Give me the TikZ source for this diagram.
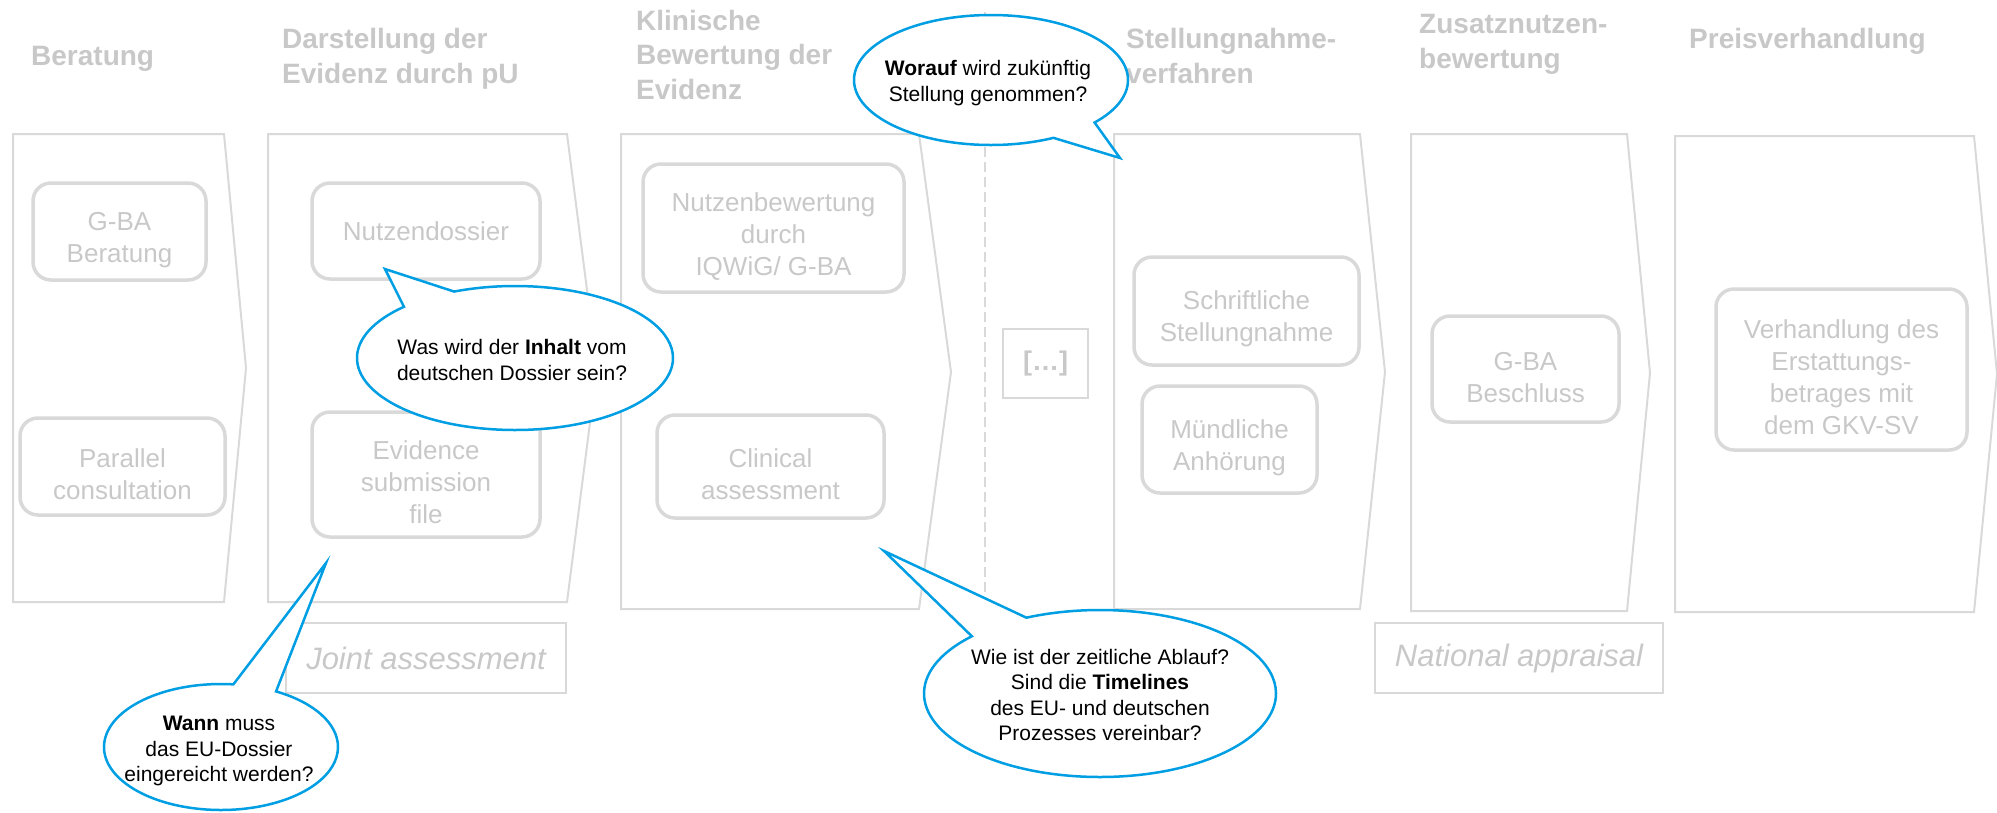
\documentclass[tikz,border=0pt]{standalone}
\usepackage{fontspec}
\setmainfont{Liberation Sans}
\usetikzlibrary{shapes.callouts,calc}
\definecolor{stagegray}{RGB}{200,200,200}
\definecolor{boxgray}{RGB}{217,217,217}
\definecolor{qblue}{RGB}{0,158,226}
\newcommand{\lift}{\rule{0pt}{35pt}}

\begin{document}
\begin{tikzpicture}[x=1pt,y=-1pt,
    title/.style={anchor=base west,align=left,inner sep=0pt,text=stagegray,font=\fontsize{28}{34.5}\selectfont\bfseries},
    stage/.style={draw=boxgray,line width=2pt},
    task/.style={draw=boxgray,line width=3.5pt,rounded corners=18pt,text=stagegray,align=center,inner sep=0pt,font=\fontsize{26}{32}\selectfont},
    track/.style={draw=boxgray,line width=2pt,text=stagegray,inner sep=0pt,font=\fontsize{31}{36}\selectfont\itshape},
    bubble/.style={ellipse callout,draw=qblue,fill=white,line width=2.5pt,callout pointer arc=22,inner sep=0pt},
    question/.style={align=center,inner sep=0pt,font=\fontsize{21}{25.5}\selectfont}]

    \useasboundingbox (0,0) rectangle (1997,812);

    \draw[stage] (13,134) -- (224,134) -- (246,368) -- (224,602) -- (13,602) -- cycle;
    \draw[stage] (268,134) -- (567,134) -- (597,368) -- (567,602) -- (268,602) -- cycle;
    \draw[stage] (621,134) -- (919,134) -- (951,372) -- (919,609) -- (621,609) -- cycle;
    \draw[stage] (1114,134) -- (1360,134) -- (1385,372) -- (1360,609) -- (1114,609) -- cycle;
    \draw[stage] (1411,134) -- (1627,134) -- (1650,373) -- (1627,611) -- (1411,611) -- cycle;
    \draw[stage] (1675,136) -- (1974,136) -- (1997,374) -- (1974,612) -- (1675,612) -- cycle;

    \coordinate (septop) at (985,12);
    \coordinate (sepbot) at (985,605);
    \draw[boxgray,line width=1.5pt,dash pattern=on 10pt off 5pt] (septop) -- (sepbot);

    \node[title] (beratung) at (31,65) {Beratung};
    \node[title] (darstellung) at (282,83) {Darstellung der\\Evidenz durch pU};
    \node[title] (klinisch) at (636,99) {Klinische\\Bewertung der\\Evidenz};
    \node[title] (stellung) at (1126,83) {Stellungnahme-\\verfahren};
    \node[title] (zusatz) at (1419,68) {Zusatznutzen-\\bewertung};
    \node[title] (preis) at (1689,48) {Preisverhandlung};

    \node[task,minimum width=173pt,minimum height=97pt] (gbaberatung) at (119.5,231.5) {\lift G-BA\\Beratung};
    \node[task,minimum width=205pt,minimum height=97pt] (parallel) at (122.5,466.5) {\lift Parallel\\consultation};
    \node[task,minimum width=228pt,minimum height=96pt] (dossier) at (426,231) {Nutzendossier};
    \node[task,minimum width=228pt,minimum height=125pt] (evidence) at (426,474.5) {\lift Evidence\\submission\\file};
    \node[task,minimum width=261pt,minimum height=128pt] (nutzenbew) at (773.5,228) {\lift Nutzenbewertung\\durch\\IQWiG/ G-BA};
    \node[task,minimum width=227pt,minimum height=103pt] (clinical) at (770.5,466.5) {\lift Clinical\\assessment};
    \node[task,minimum width=225pt,minimum height=108pt] (schriftlich) at (1246.5,311) {\lift Schriftliche\\Stellungnahme};
    \node[task,minimum width=175pt,minimum height=107pt] (muendlich) at (1229.5,439.5) {\lift Mündliche\\Anhörung};
    \node[task,minimum width=187pt,minimum height=106pt] (beschluss) at (1525.5,369) {\lift G-BA\\Beschluss};
    \node[task,minimum width=251pt,minimum height=161pt] (verhandlung) at (1841.5,369.5) {\lift Verhandlung des\\Erstattungs-\\betrages mit\\dem GKV-SV};

    \node[draw=boxgray,line width=2pt,text=stagegray,minimum width=85pt,minimum height=69pt,font=\fontsize{27}{32}\selectfont\bfseries] (gap) at (1045.5,363.5) {[…]};
    \node[track,minimum width=280pt,minimum height=70pt] (joint) at (426,658) {Joint assessment};
    \node[track,minimum width=288pt,minimum height=70pt] (national) at (1519,658) {National appraisal};

    \coordinate (tipworauf) at (1120,158);
    \coordinate (tipinhalt) at (385,269);
    \coordinate (tipwann) at (326,563);
    \coordinate (tipablauf) at (884,551);

    \node[bubble,minimum width=274pt,minimum height=130pt,callout absolute pointer={(tipworauf)}] (worauf) at (991,80) {};
    \node[question] (woraufq) at (988,83) {\textbf{Worauf} wird zukünftig\\Stellung genommen?};
    \node[bubble,minimum width=316pt,minimum height=144pt,callout absolute pointer={(tipinhalt)}] (inhalt) at (515,358) {};
    \node[question] (inhaltq) at (512,360) {Was wird der \textbf{Inhalt} vom\\deutschen Dossier sein?};
    \node[bubble,minimum width=234pt,minimum height=126pt,callout absolute pointer={(tipwann)}] (wann) at (221,747) {};
    \node[question] (wannq) at (219,751) {\textbf{Wann} muss\\das EU-Dossier\\eingereicht werden?};
    \node[bubble,minimum width=352pt,minimum height=167pt,callout absolute pointer={(tipablauf)}] (ablauf) at (1100,693.5) {};
    \node[question] (ablaufq) at (1100,695) {Wie ist der zeitliche Ablauf?\\Sind die \textbf{Timelines}\\des EU- und deutschen\\ Prozesses vereinbar?};
\end{tikzpicture}
\end{document}
